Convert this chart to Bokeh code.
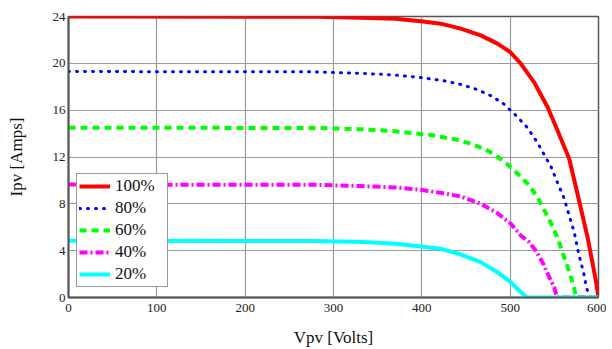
from bokeh.plotting import figure
from bokeh.models import Legend, LegendItem, FixedTicker, Range1d
from bokeh.embed import file_html
from bokeh.resources import INLINE

# 100 % irradiance
v100 = [0, 280, 330, 370, 398.8, 421.4, 444, 466.7, 485.6, 500, 512, 527, 542.3,
        553.6, 566.8, 576.2, 587.6, 597, 600]
i100 = [24, 23.97, 23.9, 23.8, 23.6, 23.39, 22.96, 22.39, 21.68, 20.97, 19.97, 18.4,
        16.27, 14.27, 11.85, 8.86, 5.15, 1.45, 0]
# 80 %
v80 = [0, 280, 330, 370, 399.6, 427, 444, 462, 478, 492.4, 505.6, 518.9, 531, 540.4,
       546, 553.6, 561, 566.8, 572.5, 578, 583, 586.5, 590, 600]
i80 = [19.3, 19.27, 19.15, 19.0, 18.78, 18.49, 18.2, 17.78, 17.24, 16.55, 15.62, 14.56,
       13.22, 11.94, 11.22, 9.8, 8.49, 7.0, 5.58, 3.59, 2.16, 0.83, 0, 0]
# 60 %
v60 = [0, 280, 330, 370, 408, 438.4, 455.4, 470.5, 483, 496, 508.2, 520.4, 531, 539.3,
       548, 554.4, 560.4, 565.7, 571.8, 574.5, 600]
i60 = [14.5, 14.48, 14.38, 14.2, 13.9, 13.5, 13.13, 12.7, 12.18, 11.42, 10.6, 9.66, 8.57,
       7.35, 6.07, 4.93, 3.59, 2.45, 1.03, 0, 0]
# 40 %
v40 = [0, 280, 330, 370, 398.8, 421.4, 444, 466.7, 485.6, 500.7, 512, 521.5, 529, 536.6,
       544.2, 549.8, 553, 600]
i40 = [9.65, 9.62, 9.52, 9.4, 9.2, 8.94, 8.63, 8.0, 7.2, 6.3, 5.3, 4.73, 4.0, 3.02,
       1.74, 0.88, 0, 0]
# 20 %
v20 = [0, 280, 334, 370, 398.8, 421.4, 444, 466.7, 485.6, 500.7, 512, 518.9, 600]
i20 = [4.85, 4.83, 4.75, 4.6, 4.36, 4.16, 3.67, 3.02, 2.16, 1.31, 0.45, 0, 0]

labels = ["100%", "80%", "60%", "40%", "20%"]
x_ticks = [0, 100, 200, 300, 400, 500, 600]
y_ticks = [0, 4, 8, 12, 16, 20, 24]

FONT = "'Liberation Serif', serif"

p = figure(width=606, height=349, output_backend="svg", toolbar_location=None,
           x_range=Range1d(0, 600), y_range=Range1d(0, 24),
           min_border_left=68, min_border_right=8, min_border_top=16, min_border_bottom=52)

p.outline_line_color = "#555555"
p.outline_line_width = 1.5

for ax in (p.xaxis[0], p.yaxis[0]):
    ax.axis_line_color = "#555555"
    ax.axis_line_width = 2
    ax.major_tick_out = 0
    ax.major_tick_in = 0
    ax.minor_tick_out = 0
    ax.minor_tick_in = 0
    ax.major_label_text_font = FONT
    ax.major_label_text_font_size = "13px"
    ax.major_label_text_font_style = "normal"
    ax.major_label_text_color = "#222222"
    ax.axis_label_text_font = FONT
    ax.axis_label_text_font_size = "17px"
    ax.axis_label_text_font_style = "normal"
    ax.axis_label_text_color = "#111111"

p.xaxis.ticker = FixedTicker(ticks=x_ticks)
p.yaxis.ticker = FixedTicker(ticks=y_ticks)
p.xaxis.axis_label = "Vpv [Volts]"
p.yaxis.axis_label = "Ipv [Amps]"
p.xaxis.major_label_standoff = 6
p.xaxis.axis_label_standoff = 13
p.yaxis.major_label_standoff = 3
p.yaxis.axis_label_standoff = 24

p.xgrid.grid_line_color = "#9a9a9a"
p.ygrid.grid_line_color = "#9a9a9a"
p.xgrid.grid_line_width = 1.2
p.ygrid.grid_line_width = 1.2

r100 = p.line(v100, i100, line_color="#ff0000", line_width=4)
r80 = p.line(v80, i80, line_color="#0000ff", line_width=3, line_dash="1 7",
             line_cap="round")
r60 = p.line(v60, i60, line_color="#00ff00", line_width=4, line_dash="7 5")
r40 = p.line(v40, i40, line_color="#ff00ff", line_width=4, line_dash="8 3 2 3")
r20 = p.line(v20, i20, line_color="#00ffff", line_width=4)

legend = Legend(items=[LegendItem(label=l, renderers=[r]) for l, r in
                       zip(labels, [r100, r80, r60, r40, r20])],
                location=(8, 10))
legend.label_text_font = FONT
legend.label_text_font_size = "17px"
legend.label_text_font_style = "normal"
legend.label_text_color = "#111111"
legend.glyph_width = 31
legend.glyph_height = 20
legend.label_height = 20
legend.label_width = 50
legend.label_standoff = 5
legend.spacing = 2
legend.padding = 2
legend.margin = 0
legend.border_line_color = "#333333"
legend.border_line_width = 1.5
legend.background_fill_alpha = 1.0
p.add_layout(legend)

open("out.html", "w").write(file_html(p, INLINE))
